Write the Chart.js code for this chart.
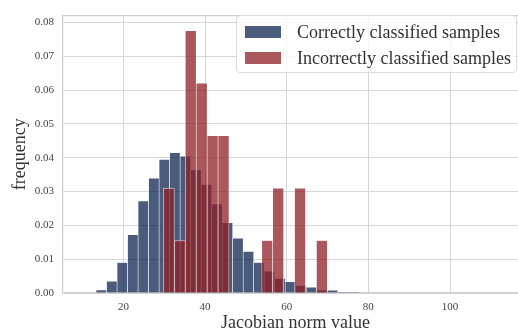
<!DOCTYPE html>
<html>
<head>
<meta charset="utf-8">
<script src="https://cdn.jsdelivr.net/npm/chart.js@4/dist/chart.umd.min.js"></script>
<style>
  html, body { margin: 0; padding: 0; background: #fff; }
  #wrap { position: relative; width: 518px; height: 335px; overflow: hidden; }
  #box { position: absolute; left: 0; top: 0; width: 528px; height: 335px; }
  #legend {
    position: absolute; left: 236px; top: 15px; width: 279px; height: 56px;
    border: 1px solid #dcdcdc; border-radius: 4px; background: rgba(255,255,255,0.8);
    font-family: "Liberation Serif", serif; font-size: 18px; color: #333;
  }
  .row { position: absolute; left: 8px; height: 26px; display: flex; align-items: center; }
  .swatch { width: 36px; height: 12px; margin-right: 16px; }
</style>
</head>
<body>
<div id="wrap">
  <div id="box"><canvas id="chart" width="528" height="335"></canvas></div>
  <div id="legend"></div>
</div>
<script>
// histogram of correctly classified samples (density per bin)
const correctBinStart = 13.3;
const correctBinWidth = 2.574;
const correctValues = [0.0009, 0.0035, 0.0090, 0.0172, 0.0272, 0.0339, 0.0395, 0.0415, 0.0404, 0.0365,
                       0.0321, 0.0263, 0.0208, 0.0162, 0.0123, 0.0090, 0.0064, 0.0043, 0.0033, 0.0022,
                       0.0017, 0.0009, 0.0008, 0.0003, 0.0002];

// histogram of incorrectly classified samples
const wrongBinStart = 29.8;
const wrongBinWidth = 2.677;
const wrongValues = [0.031, 0.0155, 0.0775, 0.062, 0.0465, 0.0465, 0, 0, 0, 0.0155,
                     0.031, 0, 0.031, 0, 0.0155];

const labels = ['Correctly classified samples', 'Incorrectly classified samples'];
const xTicks = [20, 40, 60, 80, 100];
const yTicks = [0, 0.01, 0.02, 0.03, 0.04, 0.05, 0.06, 0.07, 0.08];

const blueFill = 'rgba(15, 36, 80, 0.75)';
const redFill = 'rgba(142, 32, 38, 0.75)';
const blueSwatch = 'rgb(75, 91, 124)';
const redSwatch = 'rgb(170, 88, 92)';

function toPoints(start, width, values) {
    return values.map((v, i) => ({ x: start + width * (i + 0.5), y: v }));
}

const serif = '"Liberation Serif", serif';

const topSpine = {
    id: 'topSpine',
    afterDraw(chart) {
        const { ctx, chartArea } = chart;
        ctx.save();
        ctx.strokeStyle = '#cfcfcf';
        ctx.lineWidth = 1.25;
        ctx.beginPath();
        ctx.moveTo(chartArea.left, chartArea.top);
        ctx.lineTo(chartArea.right, chartArea.top);
        ctx.stroke();
        ctx.restore();
    }
};

const chart = new Chart(document.getElementById('chart'), {
    type: 'bar',
    data: {
        datasets: [
            {
                label: labels[0],
                data: toPoints(correctBinStart, correctBinWidth, correctValues),
                backgroundColor: blueFill,
                borderColor: 'rgba(255,255,255,0.9)',
                borderWidth: { left: 0.6, right: 0.6, top: 0.6, bottom: 0 },
                xAxisID: 'x', order: 1
            },
            {
                label: labels[1],
                data: toPoints(wrongBinStart, wrongBinWidth, wrongValues),
                backgroundColor: redFill,
                borderColor: 'rgba(255,255,255,0.8)',
                borderWidth: { left: 0.6, right: 0.6, top: 0.6, bottom: 0 },
                xAxisID: 'x2', order: 0
            }
        ]
    },
    options: {
        responsive: false, animation: false,
        layout: { padding: { top: 6, right: 0, left: 0, bottom: 0 } },
        datasets: { bar: { grouped: false, barPercentage: 1, categoryPercentage: 1 } },
        plugins: { legend: { display: false }, tooltip: { enabled: false } },
        scales: {
            x: {
                type: 'linear', min: 5.2, max: 119.1, offset: false,
                afterBuildTicks: s => { s.ticks = xTicks.map(v => ({ value: v })); },
                afterFit: s => { s.height = 42; },
                grid: { color: '#d6d6d6', lineWidth: 1, drawTicks: false, offset: false },
                border: { color: '#cfcfcf', width: 1.25 },
                ticks: { padding: 8, color: '#444', font: { family: serif, size: 11 } },
                title: { display: true, text: 'Jacobian norm value', color: '#333',
                         font: { family: serif, size: 18 }, padding: { top: 0, bottom: 1 } }
            },
            x2: { type: 'linear', min: 5.2, max: 119.1, offset: false, display: false },
            y: {
                min: 0, max: 0.082,
                afterBuildTicks: s => { s.ticks = yTicks.map(v => ({ value: v })); },
                afterFit: s => { s.width = 63; },
                grid: { color: '#d6d6d6', lineWidth: 1, drawTicks: false },
                border: { color: '#cfcfcf', width: 1.25 },
                ticks: { padding: 9, color: '#444', font: { family: serif, size: 11 },
                         callback: v => v.toFixed(2) },
                title: { display: true, text: 'frequency', color: '#333',
                         font: { family: serif, size: 18 }, padding: { top: 9, bottom: 0 } }
            }
        }
    },
    plugins: [topSpine]
});

// legend inside the axes, built from the datasets
const legend = document.getElementById('legend');
[blueSwatch, redSwatch].forEach((c, i) => {
    const row = document.createElement('div');
    row.className = 'row';
    row.style.top = (3 + i * 26) + 'px';
    row.innerHTML = '<div class="swatch" style="background:' + c + '"></div><span>' + chart.data.datasets[i].label + '</span>';
    legend.appendChild(row);
});
</script>
</body>
</html>
